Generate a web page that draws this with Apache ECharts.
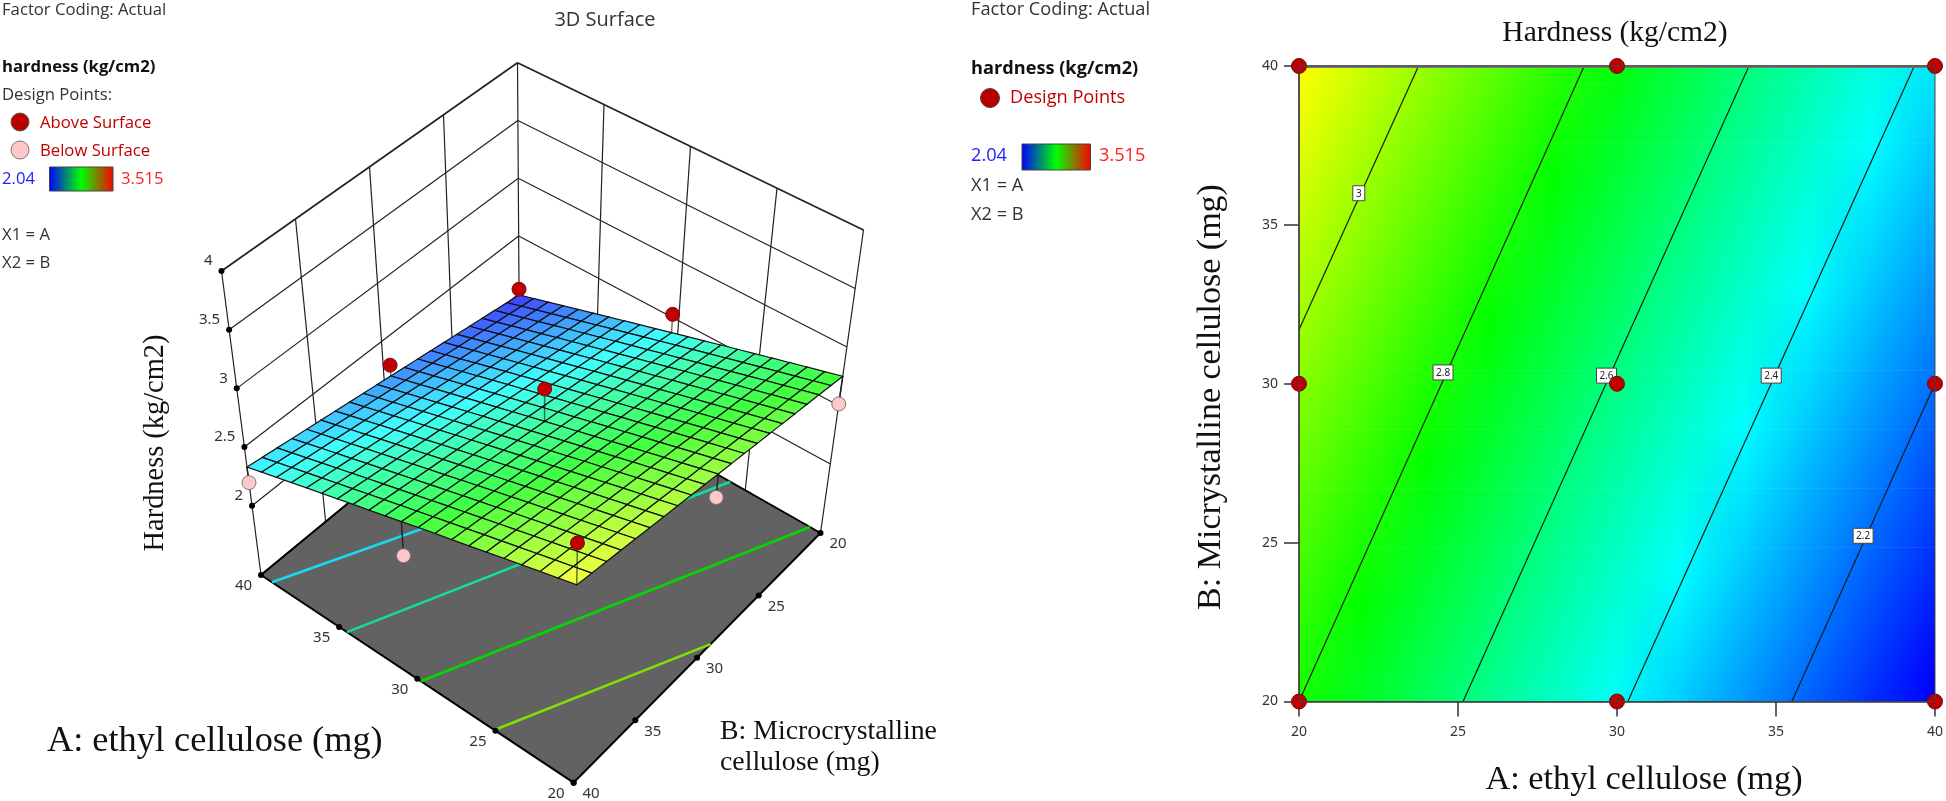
<!DOCTYPE html>
<html><head><meta charset="utf-8">
<style>html,body{margin:0;padding:0;background:#fff}#c{width:1946px;height:801px}</style>
<script src="https://cdn.jsdelivr.net/npm/echarts@6/dist/echarts.min.js"></script>
</head><body><div id="c"></div>
<script>
// ---------- data ----------
const factorTicks = [20, 25, 30, 35, 40];
const hardnessTicks = [2, 2.5, 3, 3.5, 4];
// 3D surface heights, rows B = 20..40, columns A = 20..40 (1 mg steps)
const surfaceRows = [
[2.750,2.712,2.674,2.636,2.598,2.560,2.522,2.484,2.446,2.408,2.370,2.332,2.294,2.256,2.218,2.180,2.142,2.104,2.066,2.028,1.990],
[2.767,2.729,2.691,2.653,2.615,2.577,2.539,2.501,2.463,2.425,2.387,2.349,2.311,2.273,2.235,2.197,2.159,2.121,2.083,2.045,2.007],
[2.784,2.746,2.708,2.670,2.632,2.594,2.556,2.518,2.480,2.442,2.404,2.366,2.328,2.290,2.252,2.214,2.176,2.138,2.100,2.062,2.024],
[2.801,2.763,2.725,2.687,2.649,2.611,2.573,2.535,2.497,2.459,2.421,2.383,2.345,2.307,2.269,2.231,2.193,2.155,2.117,2.079,2.041],
[2.818,2.780,2.742,2.704,2.666,2.628,2.590,2.552,2.514,2.476,2.438,2.400,2.362,2.324,2.286,2.248,2.210,2.172,2.134,2.096,2.058],
[2.835,2.797,2.759,2.721,2.683,2.645,2.607,2.569,2.531,2.493,2.455,2.417,2.379,2.341,2.303,2.265,2.227,2.189,2.151,2.113,2.075],
[2.852,2.814,2.776,2.738,2.700,2.662,2.624,2.586,2.548,2.510,2.472,2.434,2.396,2.358,2.320,2.282,2.244,2.206,2.168,2.130,2.092],
[2.869,2.831,2.793,2.755,2.717,2.679,2.641,2.603,2.565,2.527,2.489,2.451,2.413,2.375,2.337,2.299,2.261,2.223,2.185,2.147,2.109],
[2.886,2.848,2.810,2.772,2.734,2.696,2.658,2.620,2.582,2.544,2.506,2.468,2.430,2.392,2.354,2.316,2.278,2.240,2.202,2.164,2.126],
[2.903,2.865,2.827,2.789,2.751,2.713,2.675,2.637,2.599,2.561,2.523,2.485,2.447,2.409,2.371,2.333,2.295,2.257,2.219,2.181,2.143],
[2.920,2.882,2.844,2.806,2.768,2.730,2.692,2.654,2.616,2.578,2.540,2.502,2.464,2.426,2.388,2.350,2.312,2.274,2.236,2.198,2.160],
[2.937,2.899,2.861,2.823,2.785,2.747,2.709,2.671,2.633,2.595,2.557,2.519,2.481,2.443,2.405,2.367,2.329,2.291,2.253,2.215,2.177],
[2.954,2.916,2.878,2.840,2.802,2.764,2.726,2.688,2.650,2.612,2.574,2.536,2.498,2.460,2.422,2.384,2.346,2.308,2.270,2.232,2.194],
[2.971,2.933,2.895,2.857,2.819,2.781,2.743,2.705,2.667,2.629,2.591,2.553,2.515,2.477,2.439,2.401,2.363,2.325,2.287,2.249,2.211],
[2.988,2.950,2.912,2.874,2.836,2.798,2.760,2.722,2.684,2.646,2.608,2.570,2.532,2.494,2.456,2.418,2.380,2.342,2.304,2.266,2.228],
[3.005,2.967,2.929,2.891,2.853,2.815,2.777,2.739,2.701,2.663,2.625,2.587,2.549,2.511,2.473,2.435,2.397,2.359,2.321,2.283,2.245],
[3.022,2.984,2.946,2.908,2.870,2.832,2.794,2.756,2.718,2.680,2.642,2.604,2.566,2.528,2.490,2.452,2.414,2.376,2.338,2.300,2.262],
[3.039,3.001,2.963,2.925,2.887,2.849,2.811,2.773,2.735,2.697,2.659,2.621,2.583,2.545,2.507,2.469,2.431,2.393,2.355,2.317,2.279],
[3.056,3.018,2.980,2.942,2.904,2.866,2.828,2.790,2.752,2.714,2.676,2.638,2.600,2.562,2.524,2.486,2.448,2.410,2.372,2.334,2.296],
[3.073,3.035,2.997,2.959,2.921,2.883,2.845,2.807,2.769,2.731,2.693,2.655,2.617,2.579,2.541,2.503,2.465,2.427,2.389,2.351,2.313],
[3.090,3.052,3.014,2.976,2.938,2.900,2.862,2.824,2.786,2.748,2.710,2.672,2.634,2.596,2.558,2.520,2.482,2.444,2.406,2.368,2.330]
];
// Contour-plot field, rows B = 20..40, columns A = 20..40 (2 mg steps)
const fieldRows = [
[2.800,2.723,2.645,2.568,2.490,2.413,2.336,2.258,2.181,2.103,2.026],
[2.835,2.758,2.680,2.603,2.525,2.448,2.371,2.293,2.216,2.138,2.061],
[2.870,2.793,2.715,2.638,2.560,2.483,2.406,2.328,2.251,2.173,2.096],
[2.904,2.827,2.749,2.672,2.594,2.517,2.440,2.362,2.285,2.207,2.130],
[2.939,2.862,2.784,2.707,2.629,2.552,2.475,2.397,2.320,2.242,2.165],
[2.974,2.897,2.819,2.742,2.664,2.587,2.510,2.432,2.355,2.277,2.200],
[3.009,2.932,2.854,2.777,2.699,2.622,2.545,2.467,2.390,2.312,2.235],
[3.044,2.967,2.889,2.812,2.734,2.657,2.580,2.502,2.425,2.347,2.270],
[3.078,3.001,2.923,2.846,2.768,2.691,2.614,2.536,2.459,2.381,2.304],
[3.113,3.036,2.958,2.881,2.803,2.726,2.649,2.571,2.494,2.416,2.339],
[3.148,3.071,2.993,2.916,2.838,2.761,2.684,2.606,2.529,2.451,2.374]
];
// Design points: A, B, height seen on the 3D plot
const designA  = [40, 30, 40, 30, 20, 40, 20, 30, 20];
const designB  = [20, 20, 30, 30, 40, 40, 20, 40, 30];
const designZ  = [2.04, 2.527, 2.253, 2.816, 3.445, 2.197, 2.513, 2.42, 2.72];
const designAbove = [1, 1, 1, 1, 1, 0, 0, 0, 0];
// Contour lines on the flat plot: [A, B] end points
const contour30 = [[20, 31.7], [23.76, 40]];
const contour28 = [[20, 20], [28.97, 40]];
const contour26 = [[25.16, 20], [34.15, 40]];
const contour24 = [[30.34, 20], [39.35, 40]];
const contour22 = [[35.5, 20], [40, 30]];
const contourLabelA = [21.88, 24.53, 29.67, 34.85, 37.74];
const contourLabelB = [35.98, 30.34, 30.24, 30.24, 25.2];
const contourLabelText = ['3', '2.8', '2.6', '2.4', '2.2'];
const flatPointsA = [20, 30, 40, 20, 30, 40, 20, 30, 40];
const flatPointsB = [40, 40, 40, 30, 30, 30, 20, 20, 20];
// Contours projected on the 3D floor: A1, B1, A2, B2
const floorContours = [[40, 30, 35.5, 20], [39.3, 40, 30.5, 20], [34.5, 40, 26, 20], [29.77, 40, 20.7, 20], [25.07, 40, 20, 28.9]];
const floorContourColors = ['#1060ff', '#19d8f0', '#10e090', '#00d800', '#80e000'];
const colorMin = 2.04, colorMax = 3.515;

// ---------- view of the 3D box (screen anchors of its corners) ----------
const floorZ = 1.41, topZ = 4;
const floorCorners = { R: [820.5, 533], K: [519.5, 362], L: [261, 575], F: [573.6, 782.7] };
const topCorners   = { R: [863.5, 230], K: [517.5, 62.7], L: [221.5, 271], F: [578.5, 477.7] };
const gridBox = { left: 0, top: 0, width: 100, height: 100 };

function cornerAt(n, t) {
  return [floorCorners[n][0] + (topCorners[n][0] - floorCorners[n][0]) * t,
          floorCorners[n][1] + (topCorners[n][1] - floorCorners[n][1]) * t];
}
function toUV(api, A, B) {
  const p = api.coord([A, B]);
  return [(p[0] - gridBox.left) / gridBox.width, (gridBox.top + gridBox.height - p[1]) / gridBox.height];
}
// Even spacing along the edges: box walls, floor and ticks
function linearView(api, A, B, z) {
  const [u, v] = toUV(api, A, B), t = (z - floorZ) / (topZ - floorZ);
  const R = cornerAt('R', t), K = cornerAt('K', t), L = cornerAt('L', t), F = cornerAt('F', t);
  const f = i => R[i] * (1 - u) * (1 - v) + K[i] * u * (1 - v) + L[i] * u * v + F[i] * (1 - u) * v;
  return [f(0), f(1)];
}
// Perspective view: surface and design points
function perspectiveView(api, A, B, z) {
  const [u, v] = toUV(api, A, B), t = (z - floorZ) / (topZ - floorZ);
  const p0 = cornerAt('R', t), p1 = cornerAt('K', t), p2 = cornerAt('L', t), p3 = cornerAt('F', t);
  const dx1 = p1[0] - p2[0], dx2 = p3[0] - p2[0], sx = p0[0] - p1[0] + p2[0] - p3[0];
  const dy1 = p1[1] - p2[1], dy2 = p3[1] - p2[1], sy = p0[1] - p1[1] + p2[1] - p3[1];
  const den = dx1 * dy2 - dx2 * dy1;
  const g = (sx * dy2 - dx2 * sy) / den, h = (dx1 * sy - sx * dy1) / den;
  const a = p1[0] - p0[0] + g * p1[0], b = p3[0] - p0[0] + h * p3[0];
  const d = p1[1] - p0[1] + g * p1[1], e = p3[1] - p0[1] + h * p3[1];
  const w = g * u + h * v + 1;
  return [(a * u + b * v + p0[0]) / w, (d * u + e * v + p0[1]) / w];
}

function rainbow(val) {
  const stops = [[0, 0, 255], [0, 255, 255], [0, 255, 0], [255, 255, 0], [255, 0, 0]];
  let t = (val - colorMin) / (colorMax - colorMin) * 4;
  t = Math.max(0, Math.min(3.9999, t));
  const i = Math.floor(t), f = t - i;
  return stops[i].map((c, k) => c + (stops[i + 1][k] - c) * f);
}
const css = c => 'rgb(' + c.map(Math.round).join(',') + ')';
const lit = c => c.map(x => 64 + x * 0.75);

// ---------- flattened series data ----------
const wallLines = [];
hardnessTicks.forEach(z => {
  const w = z === 4 ? 1.7 : 1.2;
  wallLines.push([40, 40, z, 40, 20, z, w], [40, 20, z, 20, 20, z, w]);
});
factorTicks.forEach(t => {
  wallLines.push([40, t, floorZ, 40, t, topZ, 1.2]);
  if (t !== 40) wallLines.push([t, 20, floorZ, t, 20, topZ, 1.2]);
});
const surfaceCells = [];
for (let j = 0; j < 20; j++) for (let i = 0; i < 20; i++) {
  surfaceCells.push([20 + i, 20 + j, surfaceRows[j][i], surfaceRows[j][i + 1], surfaceRows[j + 1][i + 1], surfaceRows[j + 1][i]]);
}
const fieldCells = [];
for (let j = 0; j < 10; j++) for (let i = 0; i < 10; i++) {
  fieldCells.push([20 + 2 * i, 20 + 2 * j, 22 + 2 * i, 22 + 2 * j, fieldRows[j][i], fieldRows[j][i + 1], fieldRows[j + 1][i], fieldRows[j + 1][i + 1]]);
}
const designData = designA.map((a, i) => [a, designB[i], designZ[i], designAbove[i], surfaceRows[designB[i] - 20][a - 20]]);

const tickFont = '15px "Noto Sans"';
function s3d(name, data, renderItem) {
  return { name, type: 'custom', coordinateSystem: 'cartesian2d', xAxisIndex: 1, yAxisIndex: 1, clip: false,
           silent: true, animation: false, progressive: 0, encode: { x: 0, y: 1 }, data, renderItem };
}
const seg = (a, b, style) => ({ type: 'line', shape: { x1: a[0], y1: a[1], x2: b[0], y2: b[1] }, style });

const series = [
  s3d('walls', wallLines, (p, api) => seg(
    linearView(api, api.value(0), api.value(1), api.value(2)),
    linearView(api, api.value(3), api.value(4), api.value(5)),
    { stroke: '#222', lineWidth: api.value(6) })),
  s3d('floor', [[20, 20]], (p, api) => ({
    type: 'polygon',
    shape: { points: [[20, 20], [40, 20], [40, 40], [20, 40]].map(c => linearView(api, c[0], c[1], floorZ)) },
    style: { fill: '#626262', stroke: '#000', lineWidth: 2 } })),
  s3d('floor contours', floorContours, (p, api) => seg(
    linearView(api, api.value(0), api.value(1), floorZ),
    linearView(api, api.value(2), api.value(3), floorZ),
    { stroke: floorContourColors[p.dataIndex], lineWidth: 2.6 })),
  s3d('hardness ticks', hardnessTicks.map(z => [40, 40, z]), (p, api) => {
    const c = linearView(api, 40, 40, api.value(2));
    return { type: 'group', children: [
      { type: 'circle', shape: { cx: c[0], cy: c[1], r: 3 }, style: { fill: '#000' } },
      { type: 'text', style: { x: c[0] - 9, y: c[1] - 10, text: String(api.value(2)), font: tickFont, fill: '#333', align: 'right', verticalAlign: 'middle' } }
    ] };
  }),
  s3d('A ticks', factorTicks.map(a => [a, 40]), (p, api) => {
    const c = linearView(api, api.value(0), 40, floorZ);
    return { type: 'group', children: [
      { type: 'circle', shape: { cx: c[0], cy: c[1], r: 3 }, style: { fill: '#000' } },
      { type: 'text', style: { x: c[0] - 17.5, y: c[1] + 11, text: String(api.value(0)), font: tickFont, fill: '#333', align: 'center', verticalAlign: 'middle' } }
    ] };
  }),
  s3d('B ticks', factorTicks.map(b => [20, b]), (p, api) => {
    const c = linearView(api, 20, api.value(1), floorZ);
    return { type: 'group', children: [
      { type: 'circle', shape: { cx: c[0], cy: c[1], r: 3 }, style: { fill: '#000' } },
      { type: 'text', style: { x: c[0] + 17.5, y: c[1] + 11, text: String(api.value(1)), font: tickFont, fill: '#333', align: 'center', verticalAlign: 'middle' } }
    ] };
  }),
  s3d('below surface', designData.filter(d => !d[3]), (p, api) => {
    const A = api.value(0), B = api.value(1);
    const c = perspectiveView(api, A, B, api.value(2)), s = perspectiveView(api, A, B, api.value(4));
    return { type: 'group', children: [
      seg(c, s, { stroke: '#222', lineWidth: 1.5 }),
      { type: 'circle', shape: { cx: c[0], cy: c[1], r: 7 }, style: { fill: '#ffc8c8', stroke: '#777', lineWidth: 1 } }
    ] };
  }),
  s3d('surface', surfaceCells, (p, api) => {
    const A = api.value(0), B = api.value(1);
    const zs = [api.value(2), api.value(3), api.value(4), api.value(5)];
    const pts = [[A, B], [A + 1, B], [A + 1, B + 1], [A, B + 1]].map((c, k) => perspectiveView(api, c[0], c[1], zs[k]));
    const mean = (zs[0] + zs[1] + zs[2] + zs[3]) / 4;
    return { type: 'polygon', shape: { points: pts }, style: { fill: css(lit(rainbow(mean + 0.04))), stroke: '#111', lineWidth: 1.2 } };
  }),
  s3d('above surface', designData.filter(d => d[3]), (p, api) => {
    const A = api.value(0), B = api.value(1);
    const c = perspectiveView(api, A, B, api.value(2)), s = perspectiveView(api, A, B, api.value(4));
    return { type: 'group', children: [
      seg(c, s, { stroke: 'rgba(0,0,0,0.55)', lineWidth: 1.5 }),
      { type: 'circle', shape: { cx: c[0], cy: c[1], r: 7 }, style: { fill: '#c00000', stroke: '#701010', lineWidth: 1 } }
    ] };
  }),
  // ---- flat contour plot ----
  { name: 'field', type: 'custom', coordinateSystem: 'cartesian2d', xAxisIndex: 0, yAxisIndex: 0, silent: true, animation: false,
    progressive: 0, encode: { x: [0, 2], y: [1, 3] }, data: fieldCells, clip: true,
    renderItem: (p, api) => {
      const a0 = api.value(0), b0 = api.value(1), a1 = api.value(2), b1 = api.value(3);
      const v00 = api.value(4), v10 = api.value(5), v01 = api.value(6), v11 = api.value(7);
      const n = 14, kids = [];
      for (let s = 0; s < n; s++) {
        const f = (s + 0.5) / n, bLo = b0 + (b1 - b0) * s / n, bHi = b0 + (b1 - b0) * (s + 1) / n;
        const lo = api.coord([a0, bLo]), hi = api.coord([a1, bHi]);
        const vL = v00 + (v01 - v00) * f, vR = v10 + (v11 - v10) * f;
        kids.push({ type: 'rect', shape: { x: lo[0], y: hi[1], width: hi[0] - lo[0] + 0.7, height: lo[1] - hi[1] + 0.7 },
          style: { fill: new echarts.graphic.LinearGradient(0, 0, 1, 0, [
            { offset: 0, color: css(rainbow(vL)) }, { offset: 1, color: css(rainbow(vR)) }]) } });
      }
      return { type: 'group', children: kids };
    } },
  ...[contour30, contour28, contour26, contour24, contour22].map((d, i) => ({
    name: 'contour ' + i, type: 'line', xAxisIndex: 0, yAxisIndex: 0, data: d, symbol: 'none', silent: true, animation: false,
    lineStyle: { color: '#1a1a1a', width: 1.2 } })),
  { name: 'design points', type: 'scatter', xAxisIndex: 0, yAxisIndex: 0, clip: false, silent: true, animation: false,
    data: flatPointsA.map((a, i) => [a, flatPointsB[i]]), symbol: 'circle', symbolSize: 15, z: 6,
    itemStyle: { color: '#c00000', borderColor: '#601010', borderWidth: 1, opacity: 1 } },
  { name: 'contour labels', type: 'custom', coordinateSystem: 'cartesian2d', xAxisIndex: 0, yAxisIndex: 0, silent: true, animation: false, z: 5, clip: false,
    encode: { x: 0, y: 1 }, data: contourLabelA.map((a, i) => [a, contourLabelB[i]]),
    renderItem: (p, api) => {
      const c = api.coord([api.value(0), api.value(1)]);
      const t = contourLabelText[p.dataIndex], w = t.length > 1 ? 20 : 12;
      return { type: 'group', children: [
        { type: 'rect', shape: { x: c[0] - w / 2, y: c[1] - 8, width: w, height: 15 }, style: { fill: '#fff', stroke: '#444', lineWidth: 1 } },
        { type: 'text', style: { x: c[0], y: c[1], text: t, font: '10px "Noto Sans"', fill: '#222', align: 'center', verticalAlign: 'middle' } }
      ] };
    } }
];

function txt(x, y, text, font, fill, extra) {
  return Object.assign({ type: 'text', x, y, z: 20, silent: true,
    style: { text, font, fill, textAlign: extra && extra.center ? 'center' : 'left', textVerticalAlign: 'middle' } },
    extra && extra.rotation ? { rotation: extra.rotation } : {});
}
const legendFont = '16.7px "Open Sans"', legendBold = 'bold 16.7px "Open Sans"', serif = '"Liberation Serif"';
const rightFont = '18.2px "Open Sans"', rightBold = 'bold 18.2px "Open Sans"';
const barGradient = () => new echarts.graphic.LinearGradient(0, 0, 1, 0, [
  { offset: 0, color: '#0000ff' }, { offset: 0.5, color: '#00ff00' }, { offset: 1, color: '#ff0000' }]);
const dot = (cx, cy, r, fill, stroke) => ({ type: 'circle', z: 20, silent: true, shape: { cx, cy, r }, style: { fill, stroke, lineWidth: 1 } });
const bar = (x, y, w, h) => ({ type: 'rect', z: 20, silent: true, shape: { x, y, width: w, height: h }, style: { fill: barGradient(), stroke: '#444', lineWidth: 1 } });

const graphic = [
  txt(2, 10, 'Factor Coding: Actual', legendFont, '#333'),
  txt(2, 67, 'hardness (kg/cm2)', legendBold, '#111'),
  txt(2, 95, 'Design Points:', legendFont, '#333'),
  dot(20, 122, 9, '#b80000', '#555'),
  txt(40, 123, 'Above Surface', legendFont, '#c00000'),
  dot(20, 150, 9, '#ffc8c8', '#777'),
  txt(40, 151, 'Below Surface', legendFont, '#c00000'),
  txt(2, 179, '2.04', legendFont, '#2020ff'),
  bar(49.5, 167, 63.5, 24),
  txt(121, 179, '3.515', legendFont, '#ff2020'),
  txt(2, 235, 'X1 = A', legendFont, '#333'),
  txt(2, 263, 'X2 = B', legendFont, '#333'),
  txt(605, 20, '3D Surface', '20px "Open Sans"', '#333', { center: true }),
  txt(156, 443, 'Hardness (kg/cm2)', '28.4px ' + serif, '#111', { center: true, rotation: Math.PI / 2 }),
  txt(47, 741, 'A: ethyl cellulose (mg)', '36.3px ' + serif, '#111'),
  txt(720, 732, 'B: Microcrystalline', '27.8px ' + serif, '#111'),
  txt(720, 763, 'cellulose (mg)', '27.8px ' + serif, '#111'),
  txt(971, 10, 'Factor Coding: Actual', rightFont, '#333'),
  txt(971, 69, 'hardness (kg/cm2)', rightBold, '#111'),
  dot(990, 98, 9.5, '#b80000', '#444'),
  txt(1010, 98, 'Design Points', rightFont, '#c00000'),
  txt(971, 156, '2.04', rightFont, '#2020ff'),
  bar(1022, 144, 68.5, 26),
  txt(1099, 156, '3.515', rightFont, '#ff2020'),
  txt(971, 186, 'X1 = A', rightFont, '#333'),
  txt(971, 215, 'X2 = B', rightFont, '#333'),
  txt(1615, 33, 'Hardness (kg/cm2)', '29.5px ' + serif, '#111', { center: true }),
  txt(1211, 397, 'B: Micrystalline cellulose (mg)', '34px ' + serif, '#111', { center: true, rotation: Math.PI / 2 }),
  txt(1644, 780, 'A: ethyl cellulose (mg)', '34.3px ' + serif, '#111', { center: true })
];

const flatAxis = (pos, extra) => Object.assign({
  type: 'value', gridIndex: 0, position: pos, min: 20, max: 40, interval: 5, z: 4,
  axisLine: { show: true, onZero: false, lineStyle: { color: '#333', width: 1.5 } },
  axisTick: { show: true, inside: false, length: 15, lineStyle: { color: '#333', width: 1.5 } },
  axisLabel: { fontFamily: 'Noto Sans', fontSize: 14, color: '#333', margin: 21 },
  splitLine: { show: false }
}, extra);
const hiddenAxis = { type: 'value', gridIndex: 1, min: 20, max: 40, show: false };

const chart = echarts.init(document.getElementById('c'), null, { renderer: 'canvas' });
chart.setOption({
  animation: false, backgroundColor: '#fff',
  grid: [
    { left: 1299, top: 66, width: 638, height: 635.5, show: true, borderColor: '#444', borderWidth: 1, z: 8 },
    Object.assign({ show: false }, gridBox)
  ],
  xAxis: [
    flatAxis('bottom', { axisLabel: { fontFamily: 'Noto Sans', fontSize: 14, color: '#333', margin: 24 } }),
    hiddenAxis,
    flatAxis('top', { axisTick: { show: false }, axisLabel: { show: false }, axisLine: { show: true, onZero: false, lineStyle: { color: '#777', width: 3 } } })
  ],
  yAxis: [ flatAxis('left'), hiddenAxis ],
  series, graphic
});
</script></body></html>
